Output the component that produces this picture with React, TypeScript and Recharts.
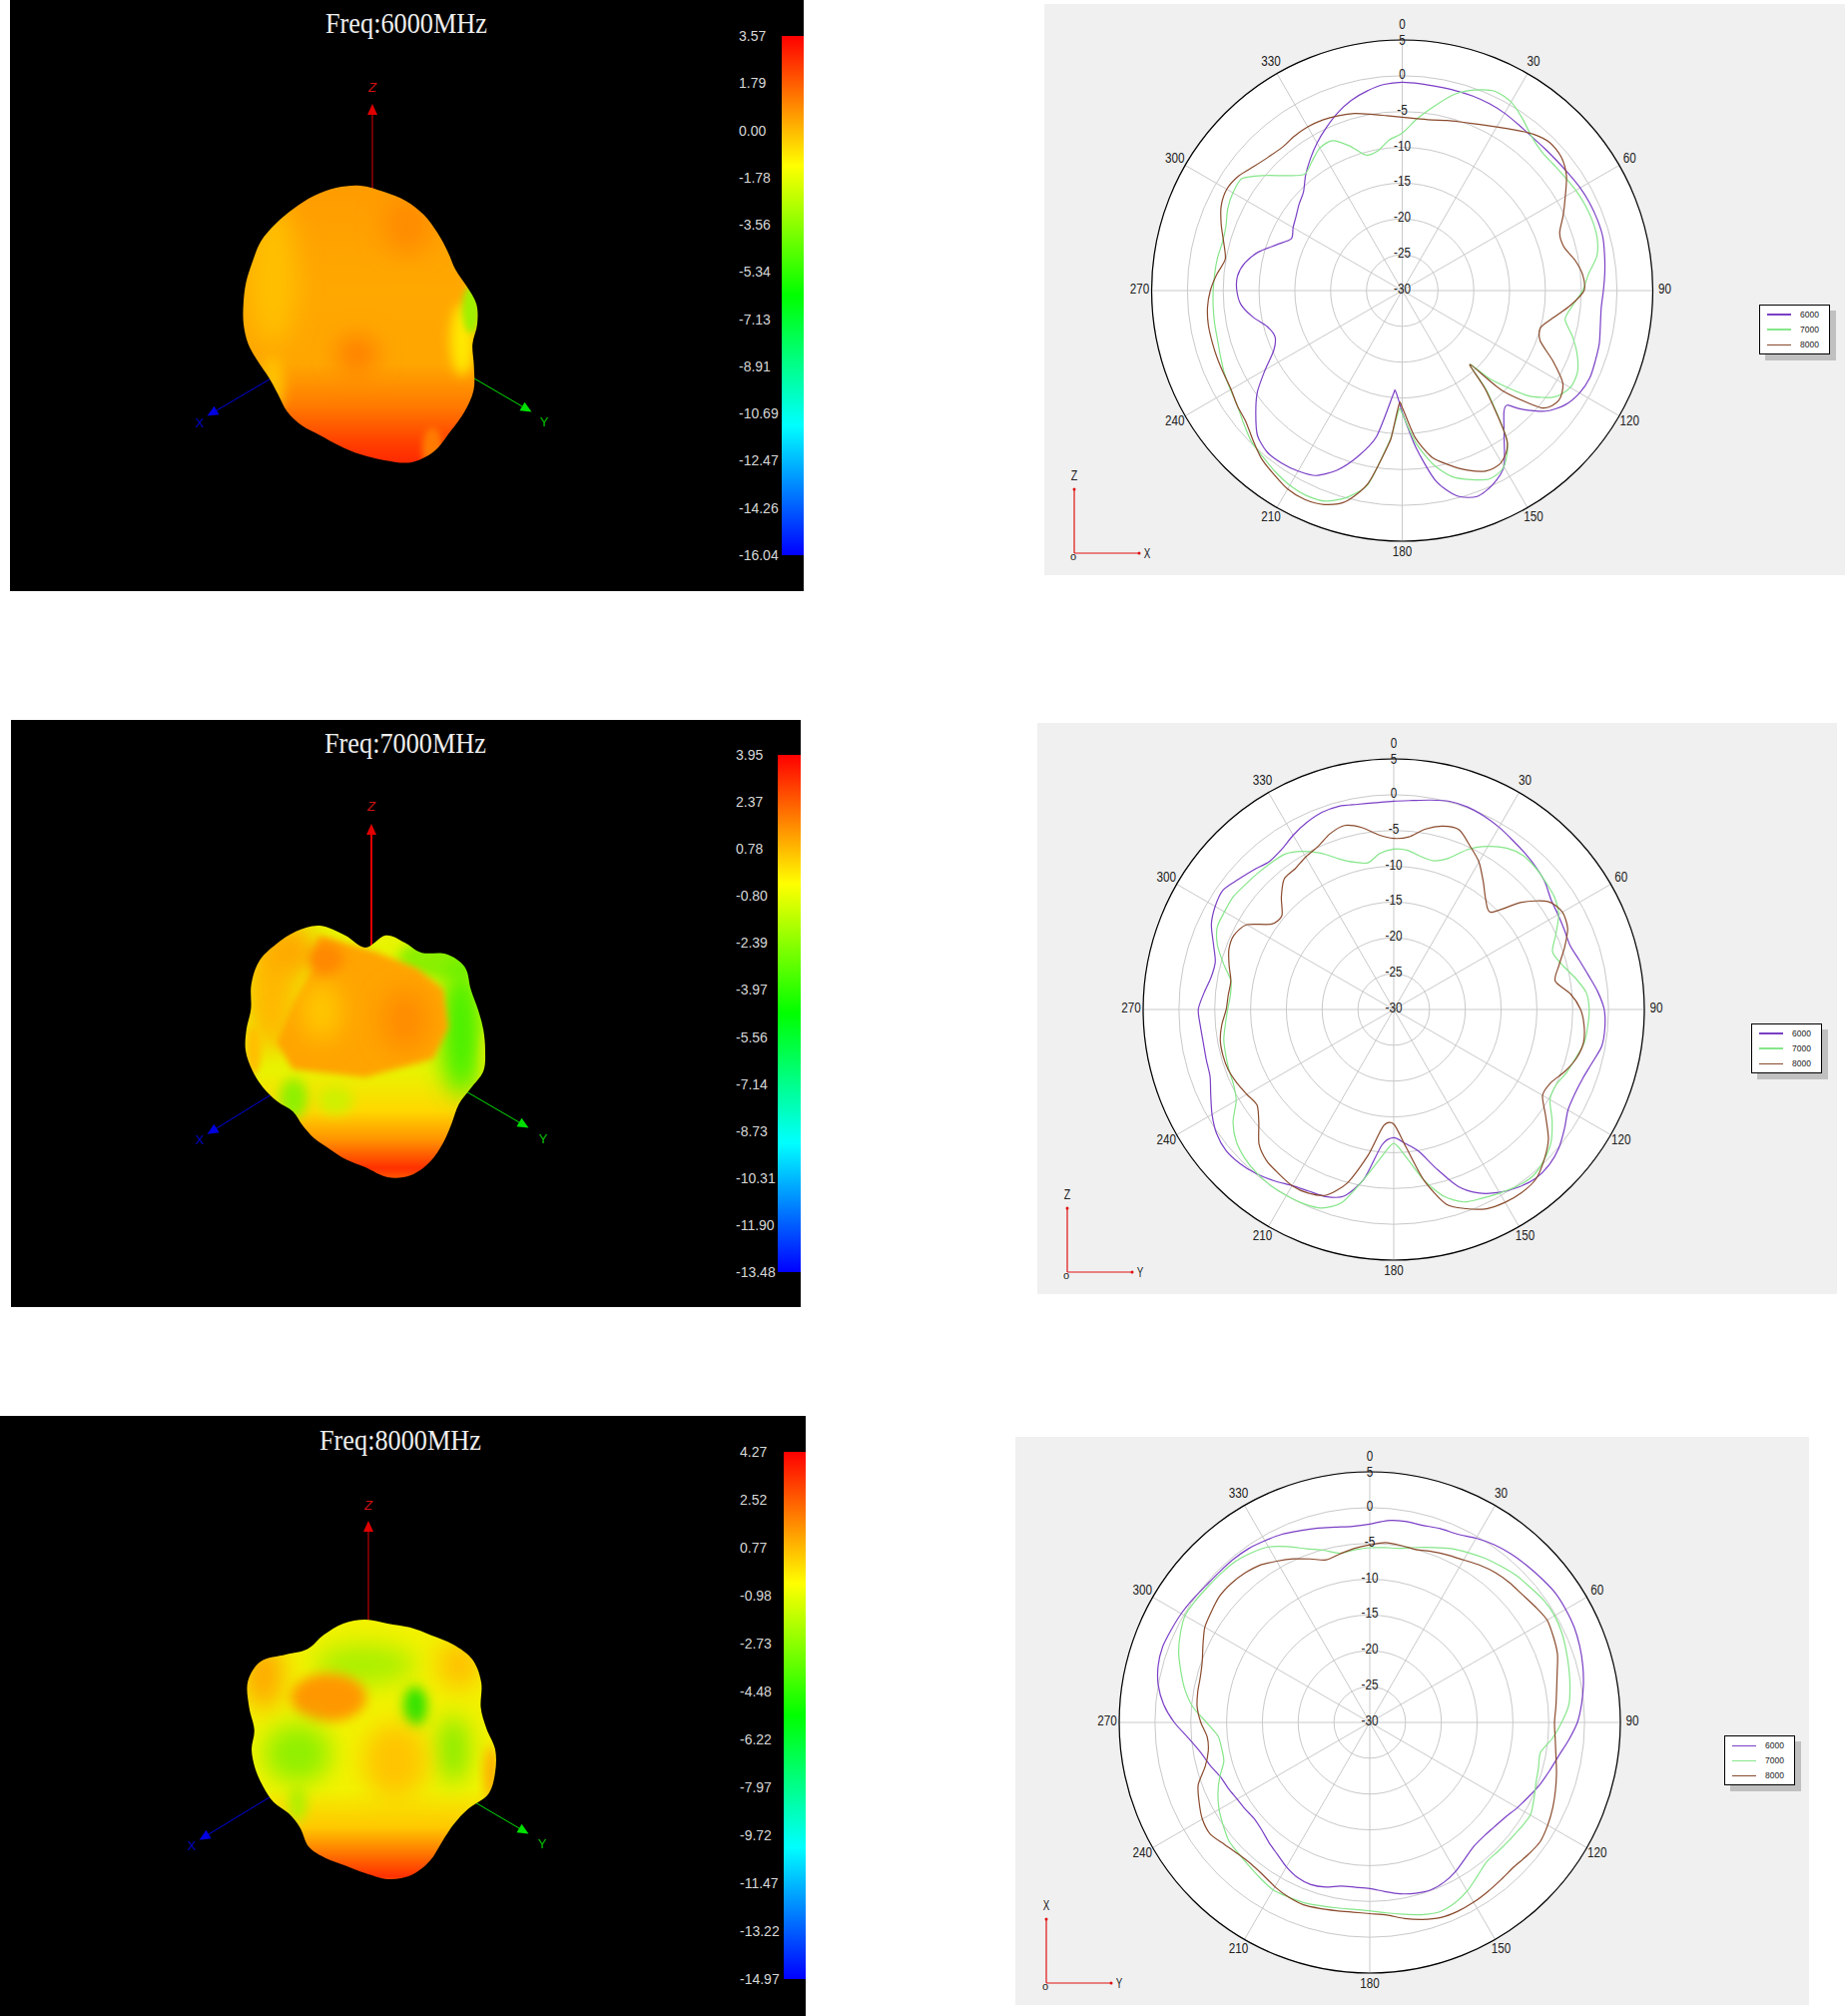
import { Bar, BarChart, Legend, PolarAngleAxis, PolarGrid, PolarRadiusAxis, Radar, RadarChart, XAxis, YAxis } from 'recharts';

// angle steps of the measured cuts (first panel has a few extra points at the sharp nulls)
const anglesXZ = [0,5,10,15,20,25,30,35,40,45,50,55,60,65,70,75,80,85,90,95,100,105,110,115,120,125,130,135,137.5,140,145,150,155,160,165,170,175,180,181.5,184,185,190,195,200,205,210,215,220,225,230,235,240,245,250,255,260,265,270,275,280,285,290,295,300,305,310,315,320,325,330,335,340,345,350,355];
const angles5 = [0,5,10,15,20,25,30,35,40,45,50,55,60,65,70,75,80,85,90,95,100,105,110,115,120,125,130,135,140,145,150,155,160,165,170,175,180,185,190,195,200,205,210,215,220,225,230,235,240,245,250,255,260,265,270,275,280,285,290,295,300,305,310,315,320,325,330,335,340,345,350,355];
const angles10 = [0,10,20,30,40,50,60,70,80,90,100,110,120,130,140,150,160,170,180,190,200,210,220,230,240,250,260,270,280,290,300,310,320,330,340,350];

const angleTicks = [0,30,60,90,120,150,180,210,240,270,300,330];
const gainTicks = [-30,-25,-20,-15,-10,-5,0,5];

// top cut, gain in dB
const xz6000 = [-0.9,-1,-1.1,-1.1,-1.1,-1.2,-1.4,-1.7,-1.9,-1.9,-1.8,-1.6,-1.3,-1.1,-1,-1,-1.3,-1.6,-1.9,-2.1,-1.9,-1.5,-1.3,-1.1,-1.4,-2.2,-3.8,-6.6,-8.3,-7.9,-5.2,-1.6,-0.1,0.6,-0.3,-3,-8,-13,-14.4,-16,-15.4,-9.3,-6,-3.3,-1.5,-0.9,-0.6,-0.6,-1.4,-3.3,-5.3,-7.9,-10.2,-11.1,-10.5,-8.8,-7.4,-6.9,-6.9,-7.7,-9.2,-11.3,-12.9,-12.4,-11.9,-11.2,-10.5,-9,-7.6,-6.2,-4.9,-3.6,-2.5,-1.7,-1.1];
const xz7000 = [-8,-5.9,-3.8,-1.6,-0.2,0.7,0.4,-0.7,-1.9,-2.5,-2.5,-2.3,-2,-1.8,-1.7,-1.8,-2.4,-3.9,-4.8,-6.1,-6.9,-5.4,-4,-3,-2.9,-4.1,-7.2,-12.4,-16,-11.5,-4.5,-1.6,-1,-1.9,-3.1,-5.4,-8.7,-12.8,-13.4,-10,-8.7,-2.5,-0.1,1.3,1.6,1.4,0.9,0.3,-0.2,-1.1,-1.9,-2.3,-2.6,-3,-3.3,-3.4,-3.5,-3.6,-3.7,-3.8,-4,-3.8,-3.1,-2.7,-2.7,-5,-7.3,-8.8,-8,-7,-6.9,-8.5,-10.4,-10.2,-8.9];
const xz8000 = [-5.8,-5.9,-5.8,-5.4,-5,-4.4,-3.6,-2.6,-1.5,-0.8,-1,-2,-3.7,-5.2,-6.6,-6.6,-5.5,-4.7,-4.6,-6.4,-8.5,-10,-9.5,-6.8,-4.1,-3.3,-4.5,-10.3,-16,-11.8,-4.5,-2.3,-2.2,-3.3,-4.8,-6.4,-9.4,-13.7,-14.2,-10,-8.5,-2.7,0.5,1.8,2.2,2,1.3,0.6,-0.5,-1.5,-1.9,-2.4,-2.5,-2.5,-2.5,-2.5,-2.7,-3.2,-4,-4.9,-4.2,-3.1,-2.1,-1.7,-2.1,-3,-3.6,-3.9,-3.7,-3.6,-3.7,-4,-4.4,-5,-5.5];

// middle cut
const yz6000 = [-0.9,-0.7,-0.3,0.1,0.1,-0.2,-0.6,-1.1,-1.5,-1.9,-2.4,-3.2,-3.5,-3.7,-3.8,-3.2,-2.4,-1.4,-0.6,-0.4,-0.5,-1.3,-1.9,-2.1,-1.9,-0.9,0.1,0.7,0.8,0.3,-0.5,-1.7,-3.7,-7,-9.9,-11.2,-12.1,-11,-5.9,-3,-2.2,-2,-1.6,-0.8,-0.1,0.4,0.6,0.2,-0.7,-1.8,-2.7,-2.9,-3,-2.9,-2.7,-3.4,-4.1,-4.2,-3.2,-1.9,-1.2,-0.9,-1.7,-2.4,-3,-2.7,-1.9,-1.2,-0.7,-0.6,-0.9,-1];
const yz7000 = [-7.6,-7.7,-8.3,-8.5,-7.5,-5.3,-3.7,-2.5,-1.9,-2,-2.3,-2.6,-3.4,-5,-6.4,-5.7,-4.3,-3,-2.7,-2.8,-3,-3.7,-4.3,-5,-4.8,-3,-1.3,-0.3,0.3,0.1,-0.4,-0.9,-1.4,-3,-5.8,-9.2,-11.3,-9.2,-5.9,-2.1,-0.5,-0.1,0,0,-0.2,-0.6,-1.3,-2.6,-4.6,-5.3,-5.5,-5.7,-5.9,-6.4,-6.8,-7.1,-6.9,-5.4,-3.8,-2.8,-2.7,-2.6,-2.9,-3.1,-3.3,-3.5,-4.5,-5.9,-7.6,-8.7,-9.2,-8.1];
const yz8000 = [-6.1,-5.8,-4.4,-3.5,-3.3,-4.8,-6.2,-8.2,-10,-10.8,-6.7,-3.7,-2.8,-3.2,-4.6,-6.1,-7.1,-5.2,-3.9,-3.3,-3.1,-3.6,-4.6,-5.8,-6,-4.1,-1.8,-0.3,0.9,1.2,1.1,0.7,-0.4,-1.9,-5.8,-10.8,-14,-13.7,-9.3,-4.9,-2.4,-1.7,-1.6,-2,-2.4,-3.4,-5.4,-6.7,-6.3,-5.8,-5.4,-5.3,-5.4,-5.9,-6.6,-6.8,-6.9,-6.2,-5.5,-5.4,-6.3,-9.2,-9.6,-7.8,-6.2,-6,-5.4,-4.9,-3.9,-3.4,-4.2,-5.5];

// bottom cut
const xy6000 = [-2.3,-1.7,-1.5,-1.5,-1.2,-1,-0.3,0.3,0.7,1,1.3,1.6,1.6,1.5,1.2,0.8,0.3,-0.3,-1,-2.1,-3.2,-4,-4.7,-5.5,-6.2,-6.9,-7.3,-7.5,-7.4,-6.8,-6,-5.4,-5.1,-5.3,-5.7,-6.3,-6.8,-6.9,-6.8,-6.2,-5.9,-6.1,-6.7,-7.5,-8.1,-8.7,-9,-8.8,-8.6,-8.2,-7.8,-6.9,-6,-4.6,-2.7,-1.1,0,0.6,0.8,0.6,0.4,0.1,-0.2,-0.3,-0.3,-0.4,-0.7,-1,-1.5,-1.9,-2.3,-2.5];
const xy7000 = [-5.6,-5.5,-5.3,-4.7,-4,-3.2,-2.6,-2,-1.5,-1,-0.7,-0.3,-0.2,-0.4,-0.8,-1.2,-1.6,-2.1,-3.2,-4.4,-5.8,-5.6,-5.3,-4.7,-4.1,-4.3,-4.5,-4.6,-4.6,-3.8,-2.8,-2.1,-1.8,-2.2,-2.8,-3.3,-3.7,-3.8,-3.7,-3.5,-3.2,-3.1,-3,-3.4,-3.8,-4.1,-4.3,-5,-5.7,-6.6,-7.7,-8.9,-9,-8.7,-7.2,-5.2,-3.8,-2.7,-1.6,-0.8,-0.2,-0.3,-0.5,-0.6,-0.7,-1.1,-1.7,-2.9,-4.2,-5.1,-6,-5.8];
const xy8000 = [-5.2,-4.8,-4.9,-5,-4.6,-4.2,-3.8,-3.2,-2.7,-2.4,-2.2,-1.8,-1.4,-1.7,-2.1,-2.9,-3.5,-3.9,-4.2,-4,-3.6,-3,-2.4,-1.8,-1.3,-0.95,-1.2,-1.5,-1.4,-1.2,-1,-0.9,-1,-1.5,-2.2,-3,-3.3,-3.4,-3.3,-3.1,-2.9,-3.1,-3.5,-4,-4.2,-4,-3.5,-2.8,-3,-3.7,-4.5,-6.2,-7.1,-7.2,-6.4,-5.8,-5.6,-5.5,-5.1,-4.3,-3.4,-3,-2.6,-2.6,-2.8,-3.2,-4,-4.8,-5.7,-6.5,-6.1,-5.6];

// pattern outlines, one radius per 10 degrees
const lobe6000 = [139,135,132,127,120,114,110,113,118,117,114,121,131,136,140,147,147,138,130,123,118,117,114,108,106,109,114,117,119,122,125,130,132,134,137,139];
const lobe7000 = [103,117,115,113,126,130,122,120,120,120,120,112,108,113,121,129,133,129,117,111,105,102,98,95,102,109,115,120,121,122,132,139,139,138,133,117];
const lobe8000 = [130,128,130,132,137,140,134,123,123,130,132,131,119,116,120,129,134,132,124,118,116,113,102,100,106,109,112,114,113,124,136,137,124,116,122,128];

// colour bar labels
const scale6000 = [3.57,1.79,0,-1.78,-3.56,-5.34,-7.13,-8.91,-10.69,-12.47,-14.26,-16.04];
const scale7000 = [3.95,2.37,0.78,-0.8,-2.39,-3.97,-5.56,-7.14,-8.73,-10.31,-11.9,-13.48];
const scale8000 = [4.27,2.52,0.77,-0.98,-2.73,-4.48,-6.22,-7.97,-9.72,-11.47,-13.22,-14.97];

const FONT = "'Liberation Sans', Arial, sans-serif";
const C6 = '#7a3fc6';
const C7 = '#86e68a';
const C8 = '#8a4a2c';

function toRows(angles: number[], a: number[], b: number[], c: number[]) {
  return angles.map((angle, i) => ({ angle, f6000: a[i], f7000: b[i], f8000: c[i] }));
}

// closed catmull-rom through the points the Radar got from its scales
function smoothShape(k: number) {
  return (props: any) => {
    const pts = props.points || [];
    const n = pts.length;
    if (!n) return null;
    let d = `M${pts[0].x},${pts[0].y}`;
    for (let i = 0; i < n; i++) {
      const p0 = pts[(i - 1 + n) % n];
      const p1 = pts[i];
      const p2 = pts[(i + 1) % n];
      const p3 = pts[(i + 2) % n];
      d += `C${p1.x + (p2.x - p0.x) * k},${p1.y + (p2.y - p0.y) * k} ${p2.x - (p3.x - p1.x) * k},${p2.y - (p3.y - p1.y) * k} ${p2.x},${p2.y}`;
    }
    return <path d={d + 'Z'} fill={props.fill} fillOpacity={props.fillOpacity} stroke={props.stroke} strokeWidth={props.strokeWidth} />;
  };
}
const traceShape = smoothShape(1 / 8);
const outlineShape = smoothShape(1 / 6);

// narrow glyphs: the source font is tall and thin
function Label({ x, y, children, size = 14 }: any) {
  const s = String(children);
  const w = [...s].reduce((sum, ch) => sum + (ch === '-' ? 4 : 6.5), 0);
  return (
    <text x={x} y={y} textLength={w} lengthAdjust="spacingAndGlyphs" textAnchor="middle" dominantBaseline="central" fontSize={size} fontFamily={FONT} fill="#222">
      {s}
    </text>
  );
}

function PolarPanel({ left, top, width, height, cx, cy, rows, legendX, legendY, legendWidths, v, h, ox, oy }: any) {
  const R = 251;
  const angleTick = (p: any) => {
    const rad = (p.payload.value * Math.PI) / 180;
    const lift = p.payload.value === 0 ? 4 : 2; // keeps the top 0 clear of the gain label 5
    return <Label x={cx + 263 * Math.sin(rad)} y={cy - lift - 263 * Math.cos(rad)}>{p.payload.value}</Label>;
  };
  const gainTick = (p: any) => <Label x={cx} y={p.payload.value === 5 ? p.y : p.y - 2}>{p.payload.value}</Label>;
  const legendBox = ({ payload }: any) => (
    <div style={{ width: 69, height: 48, boxSizing: 'content-box', border: '1px solid #000', background: '#fff', boxShadow: '6px 6px 0 #c0c0c0', position: 'relative' }}>
      {(payload || []).map((item: any, i: number) => (
        <div key={item.value} style={{ position: 'absolute', left: 7, top: 3 + i * 15.2, height: 12, display: 'flex', alignItems: 'center', fontFamily: FONT, fontSize: 8.5, color: '#222' }}>
          <span style={{ display: 'inline-block', width: 24, height: legendWidths[i], background: item.color, marginRight: 9 }} />
          {item.value}
        </div>
      ))}
    </div>
  );
  return (
    <div style={{ position: 'absolute', left, top, width, height, background: '#f0f0f0' }}>
      <div style={{ position: 'absolute', left: cx - R, top: cy - R, width: 2 * R, height: 2 * R, borderRadius: '50%', background: '#fff' }} />
      <div style={{ position: 'absolute', left: 0, top: 0 }}>
        <RadarChart width={width} height={height} cx={cx} cy={cy} outerRadius={R} data={rows} margin={{ top: 0, right: 0, bottom: 0, left: 0 }}>
          <PolarGrid gridType="circle" stroke="#c9c9c9" strokeWidth={1} />
          <PolarAngleAxis dataKey="angle" type="number" domain={[0, 360]} ticks={angleTicks} tick={angleTick} tickLine={false} axisLineType="circle" axisLine={{ stroke: '#000', strokeWidth: 1.2 }} />
          <PolarRadiusAxis angle={90} type="number" domain={[-30, 5]} ticks={gainTicks} tickCount={8} tick={gainTick} tickLine={false} axisLine={false} />
          <Radar name="6000" dataKey="f6000" stroke={C6} fill="none" strokeWidth={1.2} dot={false} isAnimationActive={false} shape={traceShape} />
          <Radar name="7000" dataKey="f7000" stroke={C7} fill="none" strokeWidth={1.2} dot={false} isAnimationActive={false} shape={traceShape} />
          <Radar name="8000" dataKey="f8000" stroke={C8} fill="none" strokeWidth={1.2} dot={false} isAnimationActive={false} shape={traceShape} />
          <Legend content={legendBox} wrapperStyle={{ left: legendX - left, top: legendY - top, width: 71, height: 50, bottom: 'auto', right: 'auto' }} />
          <line x1={ox} y1={oy} x2={ox} y2={oy - 64} stroke="#e01010" strokeWidth={1.2} />
          <line x1={ox} y1={oy} x2={ox + 65} y2={oy} stroke="#e01010" strokeWidth={1.2} />
          <circle cx={ox} cy={oy - 64} r={1.5} fill="#e01010" />
          <circle cx={ox + 65} cy={oy} r={1.5} fill="#e01010" />
          <Label x={ox} y={oy - 78}>{v}</Label>
          <Label x={ox + 73} y={oy}>{h}</Label>
          <text x={ox - 1} y={oy + 3} textAnchor="middle" dominantBaseline="central" fontSize={11} fontFamily={FONT} fill="#222">o</text>
        </RadarChart>
      </div>
    </div>
  );
}

function ColorBar({ id, top, bottom, barLeft, barRight, labelX, ticks }: any) {
  const min = ticks[ticks.length - 1];
  const max = ticks[0];
  const pad = 10;
  const tick = (p: any) => (
    <text x={0} y={p.y} dominantBaseline="central" fontSize={14} fontFamily={FONT} fill="#d8d8d8">
      {p.payload.value.toFixed(2)}
    </text>
  );
  return (
    <div style={{ position: 'absolute', left: labelX, top: top - pad, width: barRight - labelX, height: bottom - top + 2 * pad }}>
      <BarChart width={barRight - labelX} height={bottom - top + 2 * pad} data={[{ name: 'gain', range: [min, max] }]} margin={{ top: pad, right: 0, bottom: pad, left: 0 }} barCategoryGap={0}>
        <defs>
          <linearGradient id={id} x1="0" y1="0" x2="0" y2="1">
            <stop offset="0" stopColor="#ff0000" />
            <stop offset="0.25" stopColor="#ffff00" />
            <stop offset="0.5" stopColor="#00ff00" />
            <stop offset="0.75" stopColor="#00ffff" />
            <stop offset="1" stopColor="#0000ff" />
          </linearGradient>
        </defs>
        <XAxis dataKey="name" hide />
        <YAxis type="number" domain={[min, max]} ticks={ticks} interval={0} width={barLeft - labelX} tick={tick} tickLine={false} axisLine={false} />
        <Bar dataKey="range" fill={`url(#${id})`} isAnimationActive={false} />
      </BarChart>
    </div>
  );
}

function Spot({ x, y, rx, ry, c, b = 'blur12' }: any) {
  return <ellipse cx={x} cy={y} rx={rx} ry={ry} fill={c} filter={`url(#${b})`} />;
}

function Arrow3D({ x1, y1, x2, y2, color, width = 1 }: any) {
  // shaft plus a small cone at the far end
  const len = Math.hypot(x2 - x1, y2 - y1);
  const ux = (x2 - x1) / len;
  const uy = (y2 - y1) / len;
  const tipX = x2 + ux * 11;
  const tipY = y2 + uy * 11;
  return (
    <g>
      <line x1={x1} y1={y1} x2={x2} y2={y2} stroke={color} strokeWidth={width} />
      <polygon points={`${tipX},${tipY} ${x2 - uy * 5},${y2 + ux * 5} ${x2 + uy * 5},${y2 - ux * 5}`} fill={color} />
    </g>
  );
}

function BlobPanel({ id, top, panelX, panelW, panelH, cx, cy, lobe, title, titleX, titleY, shade, zx, zTop, zEnd, zLabel, zWidth, blue, green, blueLabel, greenLabel }: any) {
  const rows = angles10.map((angle, i) => ({ angle, r: lobe[i] }));
  const y = (v: number) => v - top;
  return (
    <div style={{ position: 'absolute', left: 0, top, width: 820, height: panelH }}>
      <div style={{ position: 'absolute', left: panelX, top: 0, width: panelW, height: panelH, background: '#000' }} />
      <div style={{ position: 'absolute', left: 0, top: 0 }}>
        <RadarChart width={820} height={panelH} cx={cx} cy={y(cy)} outerRadius={200} data={rows} margin={{ top: 0, right: 0, bottom: 0, left: 0 }}>
          <defs>
            <filter id="blur12" x="-80%" y="-80%" width="260%" height="260%"><feGaussianBlur stdDeviation="12" /></filter>
            <filter id="blur6" x="-60%" y="-60%" width="220%" height="220%"><feGaussianBlur stdDeviation="6" /></filter>
            <filter id="blur3" x="-60%" y="-60%" width="220%" height="220%"><feGaussianBlur stdDeviation="3" /></filter>
            <pattern id={id} patternUnits="userSpaceOnUse" x={0} y={0} width={820} height={panelH}>
              <g transform={`translate(${cx} ${y(cy)})`}>{shade}</g>
            </pattern>
          </defs>
          <PolarAngleAxis dataKey="angle" type="number" domain={[0, 360]} tick={false} tickLine={false} axisLine={false} />
          <PolarRadiusAxis type="number" domain={[0, 200]} tick={false} tickLine={false} axisLine={false} />
          <Radar dataKey="r" stroke="none" fill={`url(#${id})`} fillOpacity={1} dot={false} isAnimationActive={false} shape={outlineShape} />
          <text x={titleX} y={y(titleY)} textLength={162} lengthAdjust="spacingAndGlyphs" dominantBaseline="central" fontFamily="'Liberation Serif', serif" fontSize={29} fill="#eeeeee">{title}</text>
          <Arrow3D x1={zx} y1={y(zEnd)} x2={zx} y2={y(zTop)} color="#e00000" width={zWidth} />
          <text x={zx} y={y(zLabel)} textAnchor="middle" dominantBaseline="central" fontSize={13} fontStyle="italic" fontFamily={FONT} fill="#d01010">Z</text>
          <Arrow3D x1={blue[0]} y1={y(blue[1])} x2={blue[2]} y2={y(blue[3])} color="#0000e0" />
          <text x={blueLabel[0]} y={y(blueLabel[1])} textAnchor="middle" dominantBaseline="central" fontSize={13} fontFamily={FONT} fill="#0000c0">X</text>
          <Arrow3D x1={green[0]} y1={y(green[1])} x2={green[2]} y2={y(green[3])} color="#00e000" />
          <text x={greenLabel[0]} y={y(greenLabel[1])} textAnchor="middle" dominantBaseline="central" fontSize={13} fontFamily={FONT} fill="#00c000">Y</text>
        </RadarChart>
      </div>
    </div>
  );
}

const shade6000 = (
  <g>
    <linearGradient id="baseA" gradientUnits="userSpaceOnUse" x1={0} y1={-140} x2={0} y2={150}>
      <stop offset="0" stopColor="#ff9c00" />
      <stop offset="0.35" stopColor="#ffa800" />
      <stop offset="0.62" stopColor="#ffa600" />
      <stop offset="0.76" stopColor="#ff7c00" />
      <stop offset="0.9" stopColor="#ff3c00" />
      <stop offset="1" stopColor="#ff1c00" />
    </linearGradient>
    <rect x={-200} y={-200} width={400} height={400} fill="url(#baseA)" />
    <Spot x={-88} y={-50} rx={24} ry={70} c="#ffc000" />
    <Spot x={47} y={-100} rx={25} ry={30} c="#ff8c00" />
    <Spot x={-3} y={30} rx={20} ry={18} c="#ff7c00" />
    <Spot x={-88} y={60} rx={12} ry={28} c="#ffc000" b="blur6" />
    <Spot x={72} y={125} rx={10} ry={22} c="#ff7a00" b="blur3" />
    <Spot x={102} y={15} rx={12} ry={36} c="#ffe800" b="blur6" />
    <Spot x={111} y={-15} rx={9} ry={24} c="#a0f000" b="blur3" />
  </g>
);

const shade7000 = (
  <g>
    <linearGradient id="baseB" gradientUnits="userSpaceOnUse" x1={0} y1={20} x2={0} y2={135}>
      <stop offset="0" stopColor="#e8f400" />
      <stop offset="0.35" stopColor="#ffd800" />
      <stop offset="0.6" stopColor="#ff9400" />
      <stop offset="0.85" stopColor="#ff3000" />
      <stop offset="1" stopColor="#ff7000" />
    </linearGradient>
    <rect x={-200} y={-200} width={400} height={400} fill="url(#baseB)" />
    <Spot x={-94} y={-60} rx={26} ry={62} c="#ffb800" />
    <Spot x={-75} y={-100} rx={26} ry={26} c="#ffa800" />
    <Spot x={78} y={-92} rx={46} ry={20} c="#8cf000" b="blur6" />
    <Spot x={96} y={-20} rx={20} ry={66} c="#40f000" />
    <Spot x={122} y={10} rx={7} ry={34} c="#c8f000" b="blur3" />
    <path d="M-47,-115 L10,-99 L52,-82 L78,-61 L83,-23 L68,8 L0,27 L-73,19 L-89,-8 L-73,-46 L-52,-84 Z" fill="#ffa400" filter="url(#blur3)" />
    <Spot x={-44} y={-40} rx={20} ry={30} c="#ffc800" />
    <Spot x={-40} y={-92} rx={18} ry={16} c="#ff8800" b="blur6" />
    <Spot x={40} y={-30} rx={24} ry={32} c="#ff8c00" />
    <Spot x={-72} y={48} rx={14} ry={20} c="#90f000" b="blur6" />
    <Spot x={-30} y={50} rx={18} ry={14} c="#d0f000" b="blur6" />
    <Spot x={-112} y={0} rx={8} ry={24} c="#ffc000" b="blur3" />
  </g>
);

const shade8000 = (
  <g>
    <linearGradient id="baseC" gradientUnits="userSpaceOnUse" x1={0} y1={40} x2={0} y2={135}>
      <stop offset="0" stopColor="#f2f200" />
      <stop offset="0.4" stopColor="#ffc800" />
      <stop offset="0.75" stopColor="#ff6000" />
      <stop offset="0.92" stopColor="#ff3000" />
      <stop offset="1" stopColor="#ff7000" />
    </linearGradient>
    <rect x={-200} y={-200} width={400} height={400} fill="url(#baseC)" />
    <Spot x={0} y={-85} rx={50} ry={20} c="#a8f000" />
    <Spot x={50} y={-43} rx={12} ry={20} c="#30e400" b="blur6" />
    <Spot x={-37} y={-52} rx={38} ry={24} c="#ff9800" b="blur6" />
    <Spot x={-102} y={-74} rx={20} ry={34} c="#ffa800" />
    <Spot x={94} y={-85} rx={22} ry={25} c="#ffc000" />
    <Spot x={-68} y={4} rx={34} ry={30} c="#90f000" />
    <Spot x={88} y={0} rx={15} ry={34} c="#80ec00" />
    <Spot x={30} y={12} rx={32} ry={38} c="#ffc400" />
    <Spot x={126} y={24} rx={6} ry={28} c="#ffa000" b="blur6" />
    <Spot x={-68} y={54} rx={9} ry={18} c="#b0f000" b="blur6" />
  </g>
);

export default function App() {
  return (
    <div style={{ position: 'absolute', left: 0, top: 0, width: 1848, height: 2019, background: '#fff', overflow: 'hidden' }}>
      <BlobPanel id="lobeA" top={0} panelX={10} panelW={795} panelH={592} cx={361} cy={325} lobe={lobe6000} title="Freq:6000MHz" titleX={326} titleY={23} shade={shade6000} zx={373} zTop={115} zEnd={195} zLabel={87} zWidth={1} blue={[280, 374, 217, 411]} green={[475, 379, 523, 407]} blueLabel={[200, 423]} greenLabel={[545, 422]} />
      <BlobPanel id="lobeB" top={721} panelX={11} panelW={791} panelH={588} cx={366} cy={1052} lobe={lobe7000} title="Freq:7000MHz" titleX={325} titleY={744} shade={shade7000} zx={372} zTop={836} zEnd={948} zLabel={807} zWidth={2} blue={[293, 1083, 217, 1130]} green={[465, 1092, 520, 1124]} blueLabel={[200, 1141]} greenLabel={[544, 1140]} />
      <BlobPanel id="lobeC" top={1418} panelX={0} panelW={807} panelH={601} cx={366} cy={1752} lobe={lobe8000} title="Freq:8000MHz" titleX={320} titleY={1442} shade={shade8000} zx={369} zTop={1534} zEnd={1645} zLabel={1507} zWidth={1} blue={[288, 1789, 209, 1837]} green={[452, 1791, 520, 1831]} blueLabel={[192, 1848]} greenLabel={[543, 1846]} />

      <ColorBar id="barA" top={36} bottom={556} barLeft={783} barRight={805} labelX={740} ticks={scale6000} />
      <ColorBar id="barB" top={756} bottom={1274} barLeft={779} barRight={802} labelX={737} ticks={scale7000} />
      <ColorBar id="barC" top={1454} bottom={1982} barLeft={785} barRight={807} labelX={741} ticks={scale8000} />

      <PolarPanel left={1046} top={4} width={802} height={572} cx={358.5} cy={287} rows={toRows(anglesXZ, xz6000, xz7000, xz8000)} legendX={1762} legendY={305} legendWidths={[2, 2, 1]} v="Z" h="X" ox={30} oy={550} />
      <PolarPanel left={1039} top={724} width={801} height={572} cx={357} cy={287} rows={toRows(angles5, yz6000, yz7000, yz8000)} legendX={1754} legendY={1025} legendWidths={[2, 2, 1]} v="Z" h="Y" ox={30} oy={550} />
      <PolarPanel left={1017} top={1439} width={795} height={569} cx={355} cy={286} rows={toRows(angles5, xy6000, xy7000, xy8000)} legendX={1727} legendY={1738} legendWidths={[1, 1, 1]} v="X" h="Y" ox={31} oy={547} />
    </div>
  );
}
